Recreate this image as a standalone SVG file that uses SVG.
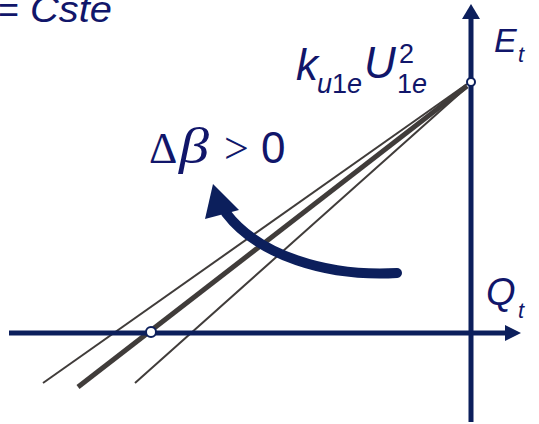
<svg xmlns="http://www.w3.org/2000/svg" width="539" height="424" viewBox="0 0 539 424">
<style>
.t{fill:#11166a;font-family:"Liberation Sans",Arial,sans-serif;}
.i{font-style:italic;}
.s{fill:#11166a;font-family:"Liberation Serif","Times New Roman",serif;}
.ax{stroke:#0c1f5c;stroke-width:5;fill:none;}
.ln{stroke:#403c3a;fill:none;stroke-linecap:butt;}
.pt{fill:#ffffff;stroke:#0c1f5c;stroke-width:2;}
</style>
<rect width="539" height="424" fill="#ffffff"/>
<g id="lines">
<line class="ln" x1="43" y1="383" x2="467" y2="84" stroke-width="2"/>
<line class="ln" x1="78" y1="387" x2="467" y2="86" stroke-width="5"/>
<line class="ln" x1="135" y1="383" x2="467" y2="87" stroke-width="2"/>
</g>
<g id="axes">
<line class="ax" x1="471" y1="422" x2="471" y2="16"/>
<polygon points="471,4 462,19 480,19" fill="#0c1f5c"/>
<line class="ax" x1="9" y1="333" x2="507" y2="333"/>
<polygon points="521,333 505,325 505,341" fill="#0c1f5c"/>
</g>
<g id="rotation-arrow">
<path d="M397,273 C326,277 258,255 226,213" stroke="#0c1f5c" stroke-width="10" fill="none" stroke-linecap="round"/>
<polygon points="213,184 205,219 239,210" fill="#0c1f5c"/>
</g>
<g id="points">
<circle class="pt" cx="471" cy="82" r="4"/>
<circle class="pt" cx="151" cy="332" r="5"/>
</g>
<g id="labels">
<text class="t" x="-2" y="22" font-size="36">=</text>
<text class="t i" x="30" y="22" font-size="36" textLength="82" lengthAdjust="spacingAndGlyphs">Cste</text>
<text class="t i" x="296" y="80" font-size="44">k</text>
<text class="t" x="317" y="93" font-size="27"><tspan font-style="italic">u</tspan>1<tspan font-style="italic">e</tspan></text>
<text class="t i" x="364" y="78" font-size="44">U</text>
<text class="t" x="399" y="63" font-size="27">2</text>
<text class="t" x="397" y="93" font-size="27">1<tspan font-style="italic">e</tspan></text>
<text class="t i" x="494" y="52" font-size="34">E</text>
<text class="t i" x="518" y="62" font-size="22">t</text>
<text class="t i" x="486" y="305" font-size="38">Q</text>
<text class="t i" x="518" y="318" font-size="22">t</text>
<text class="s" x="149" y="163" font-size="44">Δ</text>
<text class="s i" x="179" y="163" font-size="50" textLength="30" lengthAdjust="spacingAndGlyphs">β</text>
<text class="s" x="224" y="163" font-size="44">&gt;</text>
<text class="t" x="261" y="163" font-size="44">0</text>
</g>
</svg>
